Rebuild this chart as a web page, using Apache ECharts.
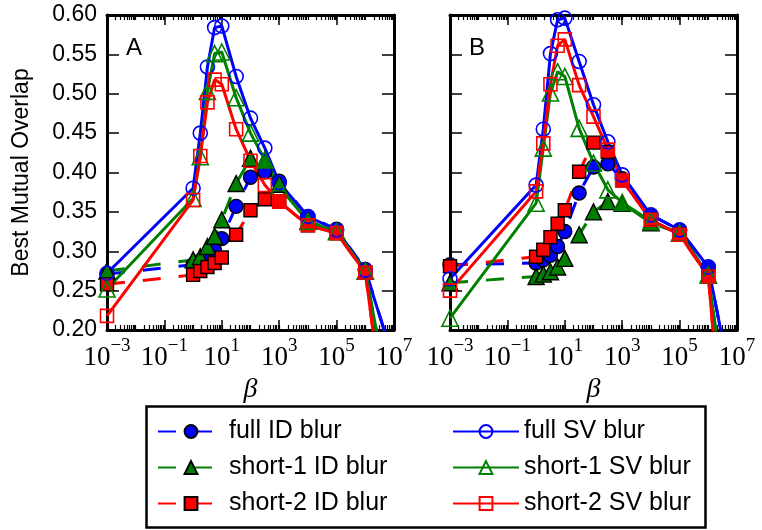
<!DOCTYPE html>
<html>
<head>
<meta charset="utf-8">
<script src="https://cdn.jsdelivr.net/npm/echarts@6/dist/echarts.min.js"></script>
<style>
html, body { margin: 0; padding: 0; background: #fff; }
#chart { width: 762px; height: 530px; }
</style>
</head>
<body>
<div id="chart"></div>
<script>
// beta values (x), shared by every series
var beta = [0.001, 1, 1.78, 3.16, 5.62, 10, 31.6, 100, 316, 1000, 1e4, 1e5, 1e6, 1e7];

// panel A
var fullIdA   = [0.271, 0.283, 0.288, 0.294, 0.301, 0.316, 0.357, 0.394, 0.401, 0.389, 0.344, 0.328, 0.277, 0.16];
var short1IdA = [0.275, 0.289, 0.293, 0.306, 0.319, 0.340, 0.386, 0.418, 0.416, 0.385, 0.338, 0.325, 0.275, 0.08];
var short2IdA = [0.258, 0.270, 0.275, 0.280, 0.285, 0.292, 0.321, 0.352, 0.366, 0.363, 0.333, 0.323, 0.273, 0.0];
var fullSvA   = [0.272, 0.380, 0.450, 0.534, 0.584, 0.586, 0.522, 0.469, 0.431, 0.387, 0.344, 0.327, 0.276, 0.16];
var short1SvA = [0.252, 0.367, 0.420, 0.503, 0.551, 0.553, 0.495, 0.450, 0.416, 0.382, 0.338, 0.325, 0.275, 0.08];
var short2SvA = [0.218, 0.365, 0.421, 0.489, 0.518, 0.512, 0.455, 0.415, 0.384, 0.363, 0.333, 0.323, 0.273, 0.0];

// panel B
var fullIdB   = [0.283, 0.285, 0.289, 0.295, 0.306, 0.325, 0.374, 0.407, 0.411, 0.392, 0.346, 0.327, 0.280, 0.095];
var short1IdB = [0.260, 0.268, 0.271, 0.274, 0.280, 0.291, 0.321, 0.350, 0.363, 0.361, 0.336, 0.323, 0.270, 0.0];
var short2IdB = [0.281, 0.293, 0.302, 0.318, 0.335, 0.352, 0.401, 0.438, 0.426, 0.390, 0.340, 0.321, 0.268, -0.147];
var fullSvB   = [0.265, 0.384, 0.455, 0.551, 0.594, 0.596, 0.541, 0.486, 0.439, 0.397, 0.346, 0.327, 0.280, 0.095];
var short1SvB = [0.215, 0.361, 0.431, 0.501, 0.528, 0.522, 0.456, 0.412, 0.378, 0.362, 0.338, 0.323, 0.270, 0.0];
var short2SvB = [0.250, 0.376, 0.437, 0.512, 0.561, 0.569, 0.511, 0.471, 0.429, 0.390, 0.340, 0.321, 0.268, -0.147];

var seriesNames = ['full ID blur', 'short-1 ID blur', 'short-2 ID blur',
                   'full SV blur', 'short-1 SV blur', 'short-2 SV blur'];
var betaTicks = [0.001, 0.1, 10, 1000, 1e5, 1e7];
var panelLabels = ['A', 'B'];

var BLUE = '#0000ff', GREEN = '#008000', RED = '#ff0000';
var SANS = 'Liberation Sans', SERIF = 'Liberation Serif';

// log minor ticks (2..9 x 10^n) plus the in-between decades
var minorTicks = [];
for (var e = -3; e < 7; e++) {
    for (var m = 1; m < 10; m++) {
        minorTicks.push(Number((m * Math.pow(10, e)).toPrecision(3)));
    }
}

var styles = [
    { symbol: 'circle', size: 14, color: BLUE, filled: true },
    { symbol: 'triangle', size: 16, color: GREEN, filled: true },
    { symbol: 'rect', size: 13, color: RED, filled: true },
    { symbol: 'circle', size: 14, color: BLUE, filled: false },
    { symbol: 'triangle', size: 16, color: GREEN, filled: false },
    { symbol: 'rect', size: 13, color: RED, filled: false }
];

function betaLabel(v) {
    var p = Math.round(Math.log10(v));
    return '{b|10}{s|' + (p < 0 ? '\u2212' + (-p) : p) + '}';
}

function lineSeries(name, values, grid, st) {
    return {
        name: name,
        type: 'line',
        xAxisIndex: grid * 4,
        yAxisIndex: grid * 2,
        data: beta.map(function(b, i) { return [b, values[i]]; }),
        symbol: st.symbol,
        symbolSize: st.size,
        clip: true,
        silent: true,
        lineStyle: { color: st.color, width: 3, type: st.filled ? [18, 18] : 'solid' },
        itemStyle: st.filled
            ? { color: st.color, borderColor: '#000', borderWidth: 1.4 }
            : { color: 'rgba(255,255,255,0)', borderColor: st.color, borderWidth: 1.6 }
    };
}

function xAxes(grid, withLabels) {
    var base = {
        type: 'log', logBase: 10, gridIndex: grid, min: 0.001, max: 1e7,
        splitLine: { show: false }, minorTick: { show: false }, minorSplitLine: { show: false }
    };
    var major = function(pos) {
        return Object.assign({}, base, {
            position: pos,
            axisLine: { show: true, lineStyle: { color: '#000', width: 3 } },
            axisTick: { show: true, inside: true, length: 10, customValues: betaTicks,
                        lineStyle: { color: '#000', width: 1.5 } },
            axisLabel: (pos === 'bottom' && withLabels) ? {
                show: true, customValues: betaTicks, margin: 7, color: '#000',
                formatter: betaLabel,
                rich: {
                    b: { fontFamily: SERIF, fontSize: 27, lineHeight: 34, verticalAlign: 'bottom', color: '#000' },
                    s: { fontFamily: SERIF, fontSize: 19, lineHeight: 20, verticalAlign: 'top', color: '#000' }
                }
            } : { show: false },
            name: pos === 'bottom' ? '\u03b2' : '',
            nameLocation: 'middle',
            nameGap: 40,
            nameTextStyle: { fontFamily: SERIF, fontStyle: 'italic', fontSize: 28, color: '#000' }
        });
    };
    var minor = function(pos) {
        return Object.assign({}, base, {
            position: pos,
            axisLine: { show: false },
            axisTick: { show: true, inside: true, length: 5, customValues: minorTicks,
                        lineStyle: { color: '#000', width: 1.2 } },
            axisLabel: { show: false }
        });
    };
    return [major('bottom'), minor('bottom'), major('top'), minor('top')];
}

function yAxes(grid, withLabels) {
    var base = {
        type: 'value', gridIndex: grid, min: 0.2, max: 0.6, interval: 0.05,
        splitLine: { show: false },
        axisLine: { show: true, lineStyle: { color: '#000', width: 3 } },
        axisTick: { show: true, inside: true, length: 12, lineStyle: { color: '#000', width: 1.5 } }
    };
    return [
        Object.assign({}, base, {
            position: 'left',
            axisLabel: withLabels ? {
                show: true, margin: 10, fontFamily: SANS, fontSize: 23, color: '#000',
                formatter: function(v) { return v.toFixed(2); }
            } : { show: false },
            name: withLabels ? 'Best Mutual Overlap' : '',
            nameLocation: 'middle',
            nameGap: 74,
            nameTextStyle: { fontFamily: SANS, fontSize: 23, color: '#000' }
        }),
        Object.assign({}, base, { position: 'right', axisLabel: { show: false } })
    ];
}

var panelData = [
    [fullIdA, short1IdA, short2IdA, fullSvA, short1SvA, short2SvA],
    [fullIdB, short1IdB, short2IdB, fullSvB, short1SvB, short2SvB]
];

var series = [];
panelData.forEach(function(list, g) {
    list.forEach(function(vals, k) {
        series.push(lineSeries(seriesNames[k], vals, g, styles[k]));
    });
});

var legendBase = {
    orient: 'vertical', top: 414, itemWidth: 66, itemHeight: 16, itemGap: 11,
    selectedMode: false,
    textStyle: { fontFamily: SANS, fontSize: 25, color: '#000' }
};

var option = {
    animation: false,
    backgroundColor: '#fff',
    title: [
        { text: panelLabels[0], left: 121, top: 31, textStyle: { fontFamily: SANS, fontSize: 24, fontWeight: 'normal', color: '#000' } },
        { text: panelLabels[1], left: 464, top: 31, textStyle: { fontFamily: SANS, fontSize: 24, fontWeight: 'normal', color: '#000' } }
    ],
    grid: [
        { left: 107, top: 15, width: 287, height: 315 },
        { left: 450, top: 15, width: 287, height: 315 }
    ],
    xAxis: xAxes(0, true).concat(xAxes(1, true)),
    yAxis: yAxes(0, true).concat(yAxes(1, false)),
    legend: [
        Object.assign({}, legendBase, { left: 152, data: seriesNames.slice(0, 3) }),
        Object.assign({}, legendBase, { left: 447, data: seriesNames.slice(3) })
    ],
    graphic: [{
        type: 'rect', left: 144, top: 404,
        shape: { width: 559, height: 121 },
        style: { fill: 'none', stroke: '#000', lineWidth: 2.5 }
    }],
    series: series
};

var chart = echarts.init(document.getElementById('chart'));
chart.setOption(option);
</script>
</body>
</html>
